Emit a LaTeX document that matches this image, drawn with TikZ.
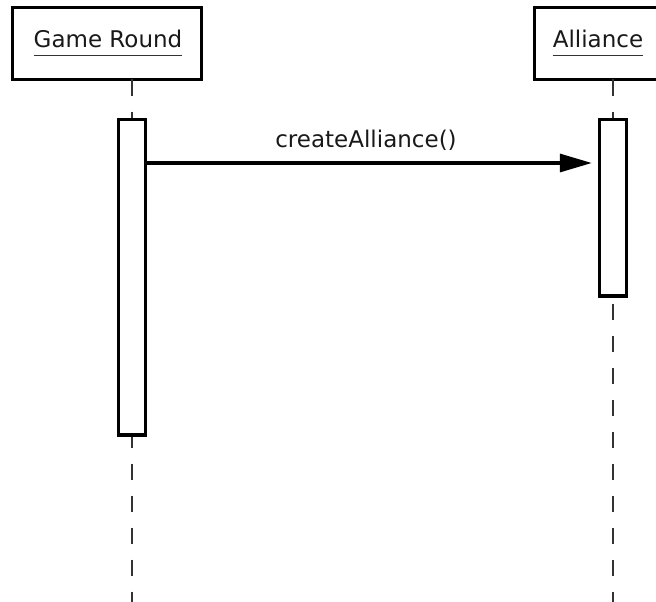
\documentclass[tikz,border=0pt]{standalone}
\usepackage{fontspec}
\setmainfont{DejaVu Sans}
\usetikzlibrary{arrows.meta}
\begin{document}
\begin{tikzpicture}[x=1pt,y=-1pt,
  headbox/.style={draw=black, line width=3.4pt, fill=white, inner sep=0pt, outer sep=0pt, minimum height=72pt},
  label/.style={inner sep=0pt, font=\fontsize{23}{27}\selectfont, text=black!90},
  act/.style={draw=black, line width=3.4pt, fill=white, inner sep=0pt, minimum width=27pt},
  lifeline/.style={line width=2pt, draw=black!80, dash pattern=on 16pt off 16pt},
  msg/.style={line width=3.2pt, -{Triangle[length=32pt,width=18pt]}, shorten >=6pt},
  uline/.style={line width=1.8pt, draw=black!80}]
\useasboundingbox (0,0) rectangle (656,602);
\clip (0,0) rectangle (656,602);

% object headers
\node[headbox, minimum width=189pt] (gr) at (107,43.5) {};
\node[label, anchor=base] (grname) at (108,48) {Game Round};
\draw[uline] ([yshift=-7.5pt]grname.base west) -- ([yshift=-7.5pt]grname.base east);

\node[headbox, minimum width=127pt] (al) at (598,43.5) {};
\node[label, anchor=base] (alname) at (598,48) {Alliance};
\draw[uline] ([yshift=-7.5pt]alname.base west) -- ([yshift=-7.5pt]alname.base east);

% lifelines
\coordinate (grend) at (132,602);
\coordinate (alend) at (613,602);
\draw[lifeline] (gr.south -| grend) -- (grend);
\draw[lifeline] (al.south -| alend) -- (alend);

% activation bars
\node[act, minimum height=315.5pt] (gract) at (132,277.25) {};
\node[act, minimum height=176.5pt] (alact) at (613,207.75) {};

% message
\coordinate (msgy) at (0,163);
\draw[msg] (gract.east |- msgy) -- (alact.west |- msgy);
\node[label, anchor=base] (msglabel) at (366,147) {createAlliance()};
\end{tikzpicture}
\end{document}
